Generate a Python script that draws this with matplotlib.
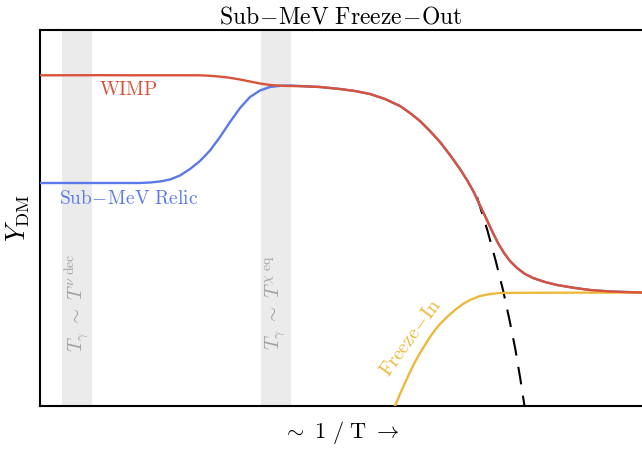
import numpy as np
import matplotlib
matplotlib.use("Agg")
import matplotlib.pyplot as plt

plt.rcParams["mathtext.fontset"] = "cm"
plt.rcParams["font.family"] = "serif"
plt.rcParams["font.serif"] = ["DejaVu Serif"]

# Abscissa ~ 1/T and ordinate Y_DM, both in arbitrary units
wimp_x = [0, 60, 100, 160, 170, 180, 190, 200, 210, 220, 230, 240, 250, 260,
          280, 300, 315, 330, 345, 360, 370, 380, 390, 400, 410, 420, 427,
          434, 440, 446, 452, 458, 464, 470, 477, 485, 493, 505, 517, 535,
          550, 570, 585, 602]
wimp_y = [330.7, 330.8, 330.7, 330.7, 330.2, 329.4, 328.2, 326.5, 324.5,
          322.5, 321.0, 320.3, 320.0, 319.8, 319.0, 317.0, 315.0, 312.0,
          307.0, 300.0, 293.0, 285.0, 275.0, 264.0, 251.0, 237.0, 226.0,
          213.5, 200.5, 188.0, 175.0, 163.0, 153.0, 145.0, 138.0, 132.0,
          128.0, 124.0, 121.0, 118.0, 116.0, 114.5, 114.0, 113.5]

relic_x = [0, 60, 100, 110, 120, 130, 140, 150, 160, 170, 180, 190, 200, 210,
           220, 230, 240, 250, 260]
relic_y = [223.0, 223.0, 223.0, 223.5, 224.5, 226.5, 230.5, 237.0, 245.0,
           255.5, 269.0, 284.0, 298.0, 309.0, 315.5, 319.0, 320.2, 320.5,
           320.0]

freezein_x = [355, 360, 365, 370, 375, 380, 385, 390, 395, 400, 407, 415,
              423, 430, 440, 450, 460, 480, 602]
freezein_y = [0.0, 12.0, 23.0, 34.0, 44.0, 53.0, 61.0, 69.0, 76.0, 82.0,
              89.0, 96.0, 102.0, 106.0, 110.0, 112.0, 113.0, 113.2, 113.5]

equilibrium_x = [437.0, 447.3, 455.5, 463.0, 469.5, 475.5, 480.5, 484.5,
                 486.5]
equilibrium_y = [209.0, 176.0, 146.0, 116.0, 86.0, 56.0, 26.0, 0.0, -14.0]

band_edges = [(22, 52), (221, 251)]
band_labels = [r"$T_\gamma\ \sim\ T^{\nu\ \mathrm{dec}}$",
               r"$T_\gamma\ \sim\ T^{\chi\ \mathrm{eq}}$"]

c_wimp = "#d8533a"
c_relic = "#5b79e8"
c_fi = "#edb93c"

fig = plt.figure(figsize=(6.42, 4.49), dpi=100)
ax = fig.add_axes([40 / 642, 43 / 449, 602 / 642, 376 / 449])
ax.set_xlim(0, 602)
ax.set_ylim(0, 376)

for (a, b), lab in zip(band_edges, band_labels):
    ax.axvspan(a, b, color="#ebebeb", lw=0, zorder=0)
    ax.text((a + b) / 2, 103, lab, rotation=90, ha="center", va="center",
            fontsize=14, color="#a0a0a0")

ax.plot(equilibrium_x, equilibrium_y, color="black", lw=1.5,
        dashes=(8.5, 5.5), zorder=2)
ax.plot(relic_x + wimp_x[14:], relic_y + wimp_y[14:], color=c_relic, lw=1.7,
        zorder=3, solid_joinstyle="round")
ax.plot(wimp_x, wimp_y, color=c_wimp, lw=1.7, zorder=4,
        solid_joinstyle="round")
ax.plot(freezein_x, freezein_y, color=c_fi, lw=1.7, zorder=3,
        solid_joinstyle="round")

ax.text(88, 316, r"$\mathrm{WIMP}$", color=c_wimp, fontsize=14,
        ha="center", va="center")
ax.text(89, 207, r"$\mathrm{Sub\!-\!MeV\ Relic}$", color=c_relic,
        fontsize=14, ha="center", va="center")
ax.text(371, 68, r"$\mathrm{Freeze\!-\!In}$", color=c_fi, fontsize=14,
        rotation=54, ha="center", va="center")

ax.set_title(r"$\mathrm{Sub\!-\!MeV\ Freeze\!-\!Out}$", fontsize=17, pad=5)
ax.set_xlabel(r"$\sim\ 1\ /\ \mathrm{T}\ \rightarrow$", fontsize=16,
              labelpad=9.5)
ax.set_ylabel(r"$Y_{\mathrm{DM}}$", fontsize=19, labelpad=6)

ax.set_xticks([])
ax.set_yticks([])
ax.spines["right"].set_visible(False)
for s in ("left", "top", "bottom"):
    ax.spines[s].set_linewidth(1.5)

fig.savefig("out.png", dpi=100)
